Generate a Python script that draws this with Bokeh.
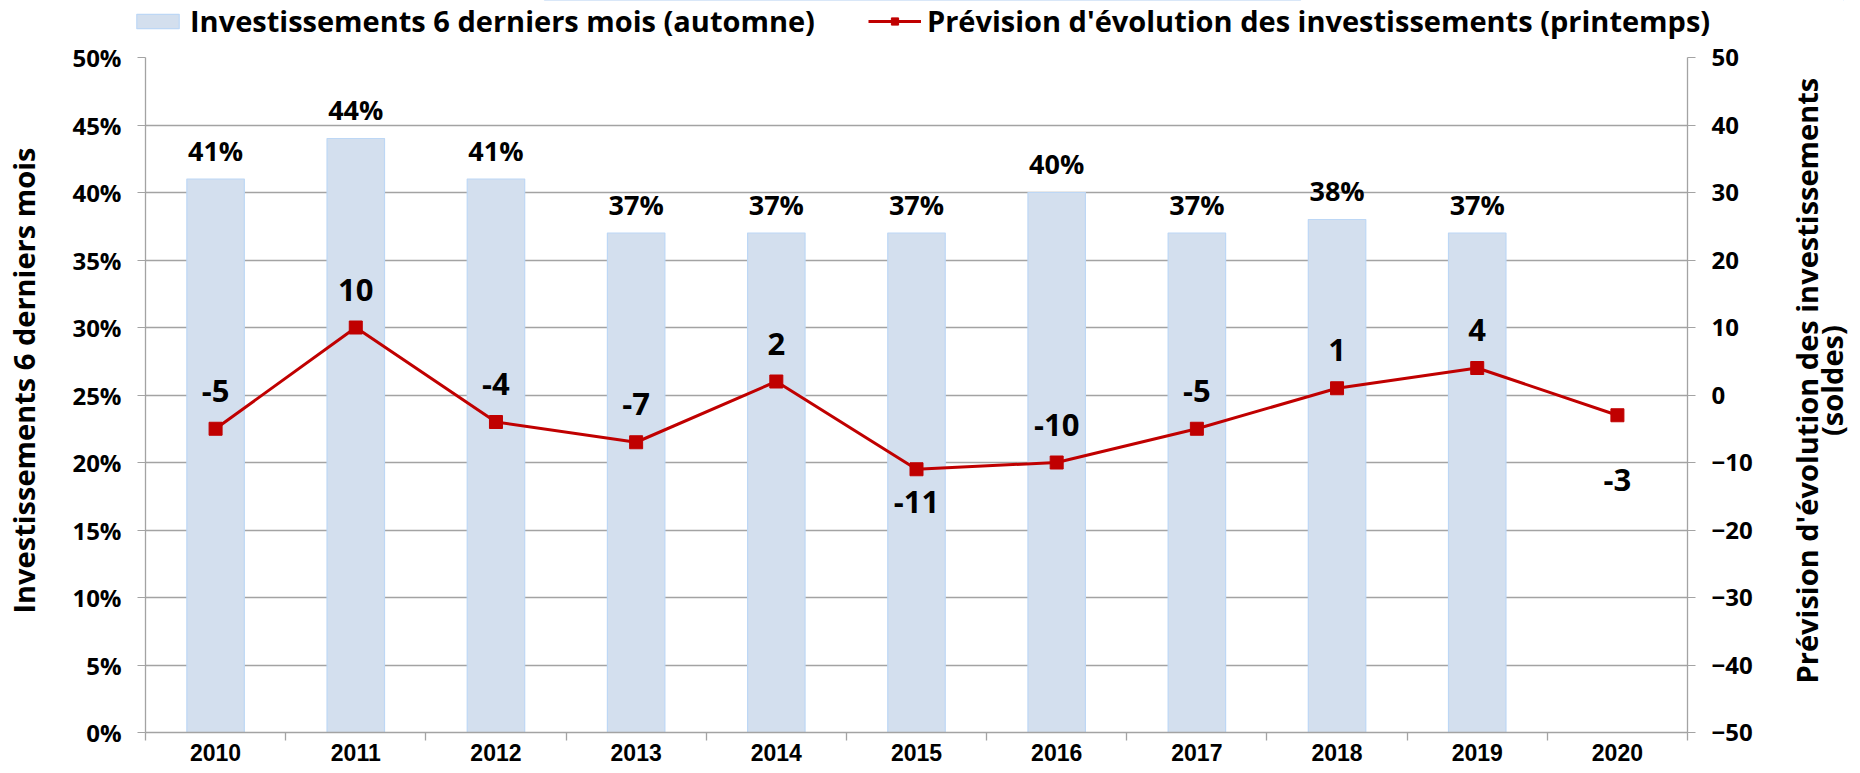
import math
from bokeh.plotting import figure
from bokeh.layouts import column, row
from bokeh.models import (Range1d, LinearAxis, FixedTicker, PrintfTickFormatter,
                          Legend, LegendItem, ColumnDataSource, Label)
from bokeh.core.properties import value
from bokeh.embed import file_html
from bokeh.resources import INLINE

# ---------------- data ----------------
years = ["2010", "2011", "2012", "2013", "2014", "2015", "2016", "2017", "2018", "2019", "2020"]
invest_pct = [41, 44, 41, 37, 37, 37, 40, 37, 38, 37, None]
prevision = [-5, 10, -4, -7, 2, -11, -10, -5, 1, 4, -3]
left_ticks = [0, 5, 10, 15, 20, 25, 30, 35, 40, 45, 50]
right_ticks = [-50, -40, -30, -20, -10, 0, 10, 20, 30, 40, 50]
bar_legend = "Investissements 6 derniers mois (automne)"
line_legend = "Prévision d'évolution des investissements (printemps)"
left_title = "Investissements 6 derniers mois"
right_title_1 = "Prévision d'évolution des investissements"
right_title_2 = "(soldes)"

# ---------------- style / layout ----------------
FONT = "Open Sans"
RED = "#C00000"
BAR_FILL = "#D3DFEE"
BAR_LINE = "#BDD7F5"
GRID = "#A3A3A3"
TITLE_SIZE = "29px"

LEG_W, LEG_H = 1844, 40        # strip holding the legend
MAIN_H = 725
LT_W = 67                      # strip holding the left axis title
MAIN_W = 1690
RT_W = 94                      # strip holding the right axis title
ML, MR, MT, MB = 78, 70, 17, 33
TITLE_CY = MAIN_H - (387 - LEG_H)   # vertical centre of the axis titles


def bare_figure(w, h, xr, yr):
    f = figure(width=w, height=h, output_backend="svg", toolbar_location=None,
               x_range=xr, y_range=yr, x_axis_location=None, y_axis_location=None,
               min_border=0)
    f.min_border_left = f.min_border_right = f.min_border_top = f.min_border_bottom = 0
    f.outline_line_color = None
    f.grid.visible = False
    return f


def title_label(txt, cx):
    return Label(x=cx, y=TITLE_CY, text=txt, angle=math.pi / 2,
                 text_align="center", text_baseline="middle",
                 text_font=FONT, text_font_style="bold", text_font_size=TITLE_SIZE,
                 text_color="black")


n = len(years)
centers = [i + 0.5 for i in range(n)]
bounds = [i for i in range(n + 1)]

# ---------------- main chart ----------------
p = figure(width=MAIN_W, height=MAIN_H, output_backend="svg", toolbar_location=None,
           x_range=Range1d(0, n), y_range=Range1d(left_ticks[0], left_ticks[-1]),
           min_border_left=ML, min_border_right=MR, min_border_top=MT, min_border_bottom=MB)
p.extra_y_ranges = {"right": Range1d(right_ticks[0], right_ticks[-1])}
p.outline_line_color = None

p.xgrid.visible = False
p.ygrid.grid_line_color = GRID
p.ygrid.grid_line_width = 1.3

# bars
bx = [c for c, v in zip(centers, invest_pct) if v is not None]
bv = [v for v in invest_pct if v is not None]
bsrc = ColumnDataSource(dict(x=bx, top=bv, lab=[f"{v}%" for v in bv]))
bar_kw = dict(x="x", top="top", bottom=0, width=0.41, source=bsrc,
              fill_color=BAR_FILL, line_color=BAR_LINE, line_width=1.2)
p.vbar(**bar_kw)
p.text(x="x", y="top", text="lab", source=bsrc, text_align="center",
       text_baseline="middle", y_offset=-29, text_font=value(FONT),
       text_font_style="bold", text_font_size="27px", text_color="black")

# line
offsets = []
for y in years:
    if y == "2015":
        offsets.append(33)
    elif y == "2020":
        offsets.append(65)
    else:
        offsets.append(-38)
lsrc = ColumnDataSource(dict(x=centers, y=prevision, lab=[str(v) for v in prevision], off=offsets))
line_kw = dict(x="x", y="y", source=lsrc, line_color=RED, line_width=3)
mark_kw = dict(x="x", y="y", source=lsrc, marker="square", size=13, fill_color=RED, line_color=RED)
p.line(y_range_name="right", **line_kw)
p.scatter(y_range_name="right", **mark_kw)
p.text(x="x", y="y", text="lab", source=lsrc, y_range_name="right", y_offset="off",
       text_align="center", text_baseline="middle", text_font=value(FONT),
       text_font_style="bold", text_font_size="31px", text_color="black")

# x axis: labels at category centres, tick marks between categories
xa = p.xaxis[0]
xa.ticker = FixedTicker(ticks=centers, minor_ticks=bounds)
xa.major_label_overrides = {c: y for c, y in zip(centers, years)}
xa.major_tick_out = 0
xa.major_tick_in = 0
xa.minor_tick_out = 8
xa.minor_tick_in = 0
xa.minor_tick_line_color = GRID
xa.minor_tick_line_width = 1.3
xa.axis_line_color = GRID
xa.axis_line_width = 1.3
xa.major_label_standoff = 3
xa.major_label_text_font = "Liberation Sans"
xa.major_label_text_font_style = "bold"
xa.major_label_text_font_size = "23px"
xa.major_label_text_color = "black"

# left axis
ya = p.yaxis[0]
ya.ticker = FixedTicker(ticks=left_ticks)
ya.formatter = PrintfTickFormatter(format="%d%%")
ya.major_tick_out = 8
ya.major_tick_in = 0
ya.minor_tick_out = 0
ya.minor_tick_in = 0
ya.major_tick_line_color = GRID
ya.axis_line_color = GRID
ya.axis_line_width = 1.3
ya.major_label_standoff = 16
ya.major_label_text_font = FONT
ya.major_label_text_font_style = "bold"
ya.major_label_text_font_size = "24px"
ya.major_label_text_color = "black"

# right axis
ra = LinearAxis(y_range_name="right", ticker=FixedTicker(ticks=right_ticks))
ra.major_tick_out = 8
ra.major_tick_in = 0
ra.minor_tick_out = 0
ra.minor_tick_in = 0
ra.major_tick_line_color = GRID
ra.axis_line_color = GRID
ra.axis_line_width = 1.3
ra.major_label_standoff = 16
ra.major_label_text_font = FONT
ra.major_label_text_font_style = "bold"
ra.major_label_text_font_size = "24px"
ra.major_label_text_color = "black"
p.add_layout(ra, "right")

# ---------------- legend strip ----------------
# the same series, drawn in a range where they stay out of view, only feed the legend
lg = bare_figure(LEG_W, LEG_H, Range1d(0, 1), Range1d(-1000, -999))
lb = lg.vbar(**bar_kw)
ll = lg.line(**line_kw)
ls = lg.scatter(**mark_kw)
legend = Legend(items=[LegendItem(label=bar_legend, renderers=[lb]),
                       LegendItem(label=line_legend, renderers=[ll, ls])],
                orientation="horizontal", location=(131, 0))
legend.glyph_width = 53
legend.glyph_height = 18
legend.label_standoff = 6
legend.spacing = 53
legend.padding = 0
legend.margin = 0
legend.border_line_color = None
legend.background_fill_alpha = 0
legend.label_text_font = FONT
legend.label_text_font_style = "bold"
legend.label_text_font_size = "29px"
legend.label_text_color = "black"
lg.add_layout(legend, "center")

# ---------------- axis title strips ----------------
lt = bare_figure(LT_W, MAIN_H, Range1d(0, LT_W), Range1d(0, MAIN_H))
lt.add_layout(title_label(left_title, 23))

rt = bare_figure(RT_W, MAIN_H, Range1d(0, RT_W), Range1d(0, MAIN_H))
rt.add_layout(title_label(right_title_1, 49))
rt.add_layout(title_label(right_title_2, 74))

layout = column(lg, row(lt, p, rt))
open("out.html", "w").write(file_html(layout, INLINE))
